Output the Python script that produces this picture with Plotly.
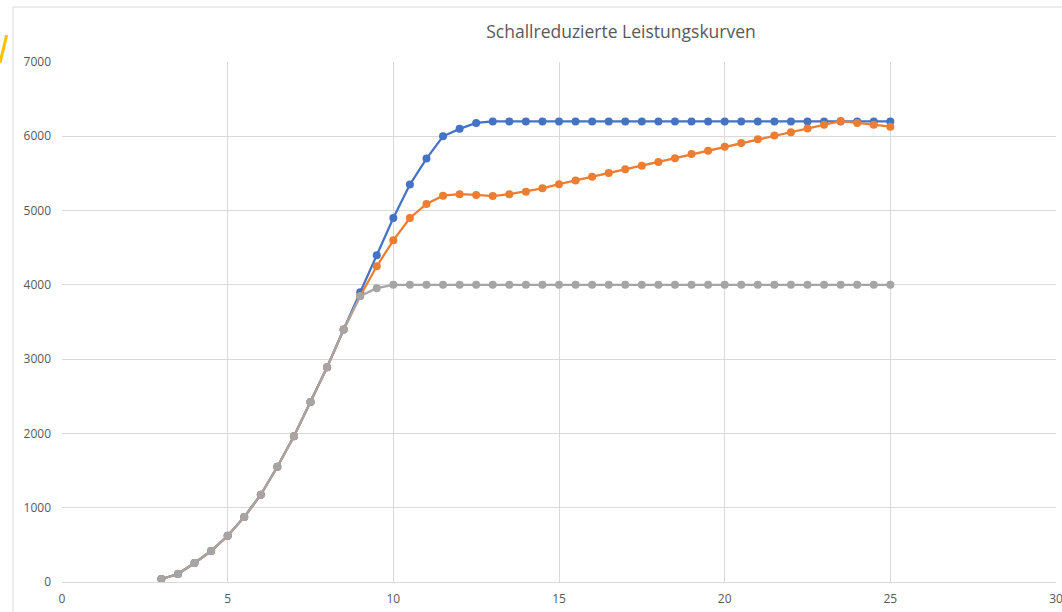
import plotly.graph_objects as go

wind_speed = [3.0, 3.5, 4.0, 4.5, 5.0, 5.5, 6.0, 6.5, 7.0, 7.5, 8.0, 8.5, 9.0, 9.5,
              10.0, 10.5, 11.0, 11.5, 12.0, 12.5, 13.0, 13.5, 14.0, 14.5, 15.0, 15.5,
              16.0, 16.5, 17.0, 17.5, 18.0, 18.5, 19.0, 19.5, 20.0, 20.5, 21.0, 21.5,
              22.0, 22.5, 23.0, 23.5, 24.0, 24.5, 25.0]

base = [40, 108, 256, 417, 623, 875, 1175, 1552, 1961, 2423, 2890, 3400]

blue_series = base + [3900, 4400, 4900, 5350, 5700, 6000, 6100, 6180,
                      6200, 6200, 6200, 6200, 6200, 6200, 6200, 6200, 6200, 6200,
                      6200, 6200, 6200, 6200, 6200, 6200, 6200, 6200, 6200, 6200,
                      6200, 6200, 6200, 6200, 6200]

orange_series = base + [3850, 4250, 4600, 4900, 5090, 5200, 5220, 5210,
                        5195, 5220, 5255, 5300, 5355, 5405, 5455, 5505, 5555, 5605,
                        5655, 5705, 5760, 5805, 5860, 5910, 5960, 6010, 6055, 6105,
                        6155, 6205, 6180, 6155, 6130]

grey_series = base + [3850, 3955, 4000, 4000, 4000, 4000, 4000, 4000,
                      4000, 4000, 4000, 4000, 4000, 4000, 4000, 4000, 4000, 4000,
                      4000, 4000, 4000, 4000, 4000, 4000, 4000, 4000, 4000, 4000,
                      4000, 4000, 4000, 4000, 4000]

title_text = "Schallreduzierte Leistungskurven"

series = [
    ("Serie 1", blue_series, "#4472C4"),
    ("Serie 2", orange_series, "#ED7D31"),
    ("Serie 3", grey_series, "#A5A5A5"),
]

fig = go.Figure()
for name, vals, col in series:
    fig.add_trace(go.Scatter(
        x=wind_speed, y=vals, name=name, mode="lines+markers",
        line=dict(color=col, width=2.25),
        marker=dict(color=col, size=8),
        cliponaxis=False,
    ))

font_fam = "Open Sans, Liberation Sans, sans-serif"

fig.update_layout(
    width=1062, height=612,
    margin=dict(l=62, r=6, t=62, b=30, autoexpand=False),
    paper_bgcolor="white", plot_bgcolor="white",
    showlegend=False,
    font=dict(family=font_fam, color="#595959", size=11),
    title=dict(text=title_text, x=(621 - 62) / 994, xanchor="center",
               xref="paper", y=1 - 32 / 612, yanchor="middle",
               font=dict(family=font_fam, size=17.5, color="#595959")),
    xaxis=dict(range=[0, 30], dtick=5, tick0=0, showgrid=True,
               gridcolor="#D9D9D9", gridwidth=1, zeroline=False,
               showline=True, linecolor="#D9D9D9", linewidth=1,
               ticks="", ticklabelstandoff=6, automargin=False,
               ticklabeloverflow="allow",
               tickfont=dict(size=12, color="#595959")),
    yaxis=dict(range=[0, 7000], dtick=1000, tick0=0, showgrid=True,
               gridcolor="#D9D9D9", gridwidth=1, zeroline=False,
               showline=False, ticks="", ticklabelstandoff=10, automargin=False,
               tickfont=dict(size=12, color="#595959")),
    shapes=[
        dict(type="line", xref="paper", yref="paper",
             x0=(13 - 62) / 994, x1=(13 - 62) / 994, y0=-0.1, y1=(582 - 7) / 520,
             line=dict(color="#D9D9D9", width=1)),
        dict(type="line", xref="paper", yref="paper",
             x0=(13 - 62) / 994, x1=1.01, y0=(582 - 7) / 520, y1=(582 - 7) / 520,
             line=dict(color="#D9D9D9", width=1)),
        dict(type="line", xref="paper", yref="paper",
             x0=(6.7 - 62) / 994, x1=(0 - 62) / 994,
             y0=(582 - 35) / 520, y1=(582 - 63) / 520,
             line=dict(color="#FFC000", width=3)),
    ],
)

fig.write_html("out.html", config={"displayModeBar": False},
               post_script="document.body.style.margin='0';")
